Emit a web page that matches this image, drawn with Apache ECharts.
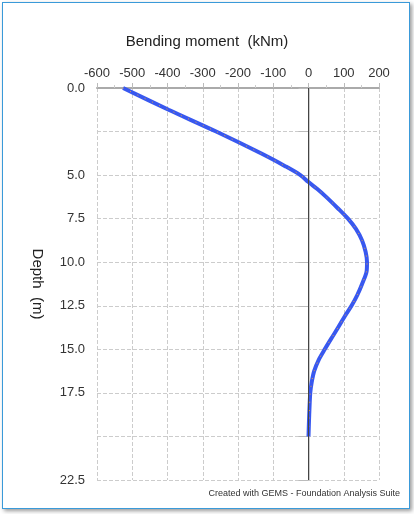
<!DOCTYPE html>
<html>
<head>
<meta charset="utf-8">
<script src="https://cdn.jsdelivr.net/npm/echarts@6/dist/echarts.min.js"></script>
<style>
html,body{margin:0;padding:0;background:#fff;}
#frame{position:absolute;left:2px;top:2px;width:406px;height:505px;border:1px solid #3a9ad9;box-shadow:2px 2px 4px #999;}
#chart{width:414px;height:514px;}
</style>
</head>
<body>
<div id="frame"></div>
<div id="chart"></div>
<script>
// depth (m) and bending moment (kNm)
var depth  = [0, 1.25, 2.5, 3.75, 4.5, 5, 5.4, 5.8, 6.25, 6.9, 7.5, 8.1, 8.75, 9.4, 10, 10.5, 11.25, 11.9, 12.5, 13.1, 13.75, 14.4, 15, 15.6, 16.25, 16.9, 17.5, 18.75, 20];
var moment = [-526, -397, -262, -135, -65, -23, 0, 25, 50, 83, 112, 135, 152, 162, 166, 165, 152, 138, 122, 103, 84, 64, 46, 29, 16, 9, 5, 2, 0];
var hiddenDepthLabels = [2.5, 20];

var mycharts = echarts.init(document.getElementById('chart'));
var points = [];
for (var i = 0; i < depth.length; i++) {
	points.push([moment[i], depth[i]]);
}

var option = {
	animation: false,
	textStyle: {fontFamily: 'Liberation Sans'},
	grid: {left: 97, right: 35, top: 88, bottom: 34},
	graphic: [
		{type: 'text', left: 'center', top: 34, style: {text: 'Bending moment  (kNm)', fontSize: 15, fill: '#222', fontFamily: 'Liberation Sans'}},
		{type: 'text', right: 14, top: 489, style: {text: 'Created with GEMS - Foundation Analysis Suite', fontSize: 9, fill: '#333', fontFamily: 'Liberation Sans'}}
	],
	xAxis: {
		type: 'value', position: 'top', min: -600, max: 200, interval: 100,
		axisLine: {show: true, lineStyle: {color: '#aaa', width: 2}},
		axisTick: {show: true, inside: false, length: 5, lineStyle: {color: '#bbb'}},
		minorTick: {show: true, splitNumber: 2, length: 3, lineStyle: {color: '#ccc'}},
		axisLabel: {color: '#333', fontSize: 13, margin: 8},
		splitLine: {show: true, lineStyle: {color: '#ccc', type: 'dashed'}}
	},
	yAxis: {
		type: 'value', inverse: true, min: 0, max: 22.5, interval: 2.5,
		name: 'Depth  (m)', nameLocation: 'middle', nameGap: 52, nameRotate: -90,
		nameTextStyle: {fontSize: 15, color: '#222'},
		axisLine: {show: true, lineStyle: {color: '#ccc', width: 2}},
		axisTick: {show: true, length: 10, lineStyle: {color: '#bbb'}},
		axisLabel: {color: '#333', fontSize: 13, margin: 12, formatter: function (v) {
			return hiddenDepthLabels.indexOf(v) >= 0 ? '' : v.toFixed(1);
		}},
		splitLine: {show: true, lineStyle: {color: '#ccc', type: 'dashed'}}
	},
	series: [
		{
			type: 'line', data: points, smooth: 0.3, showSymbol: false,
			lineStyle: {color: '#3858f0', width: 4},
			markLine: {
				silent: true, symbol: 'none', label: {show: false},
				lineStyle: {color: '#444', width: 1, type: 'solid'},
				data: [{xAxis: 0}]
			},
			z: 3
		},
		{
			type: 'line', data: points, smooth: 0.3, showSymbol: false,
			lineStyle: {color: '#e8a040', width: 1, type: [1, 7]}, z: 4
		}
	]
};
mycharts.setOption(option);
</script>
</body>
</html>
